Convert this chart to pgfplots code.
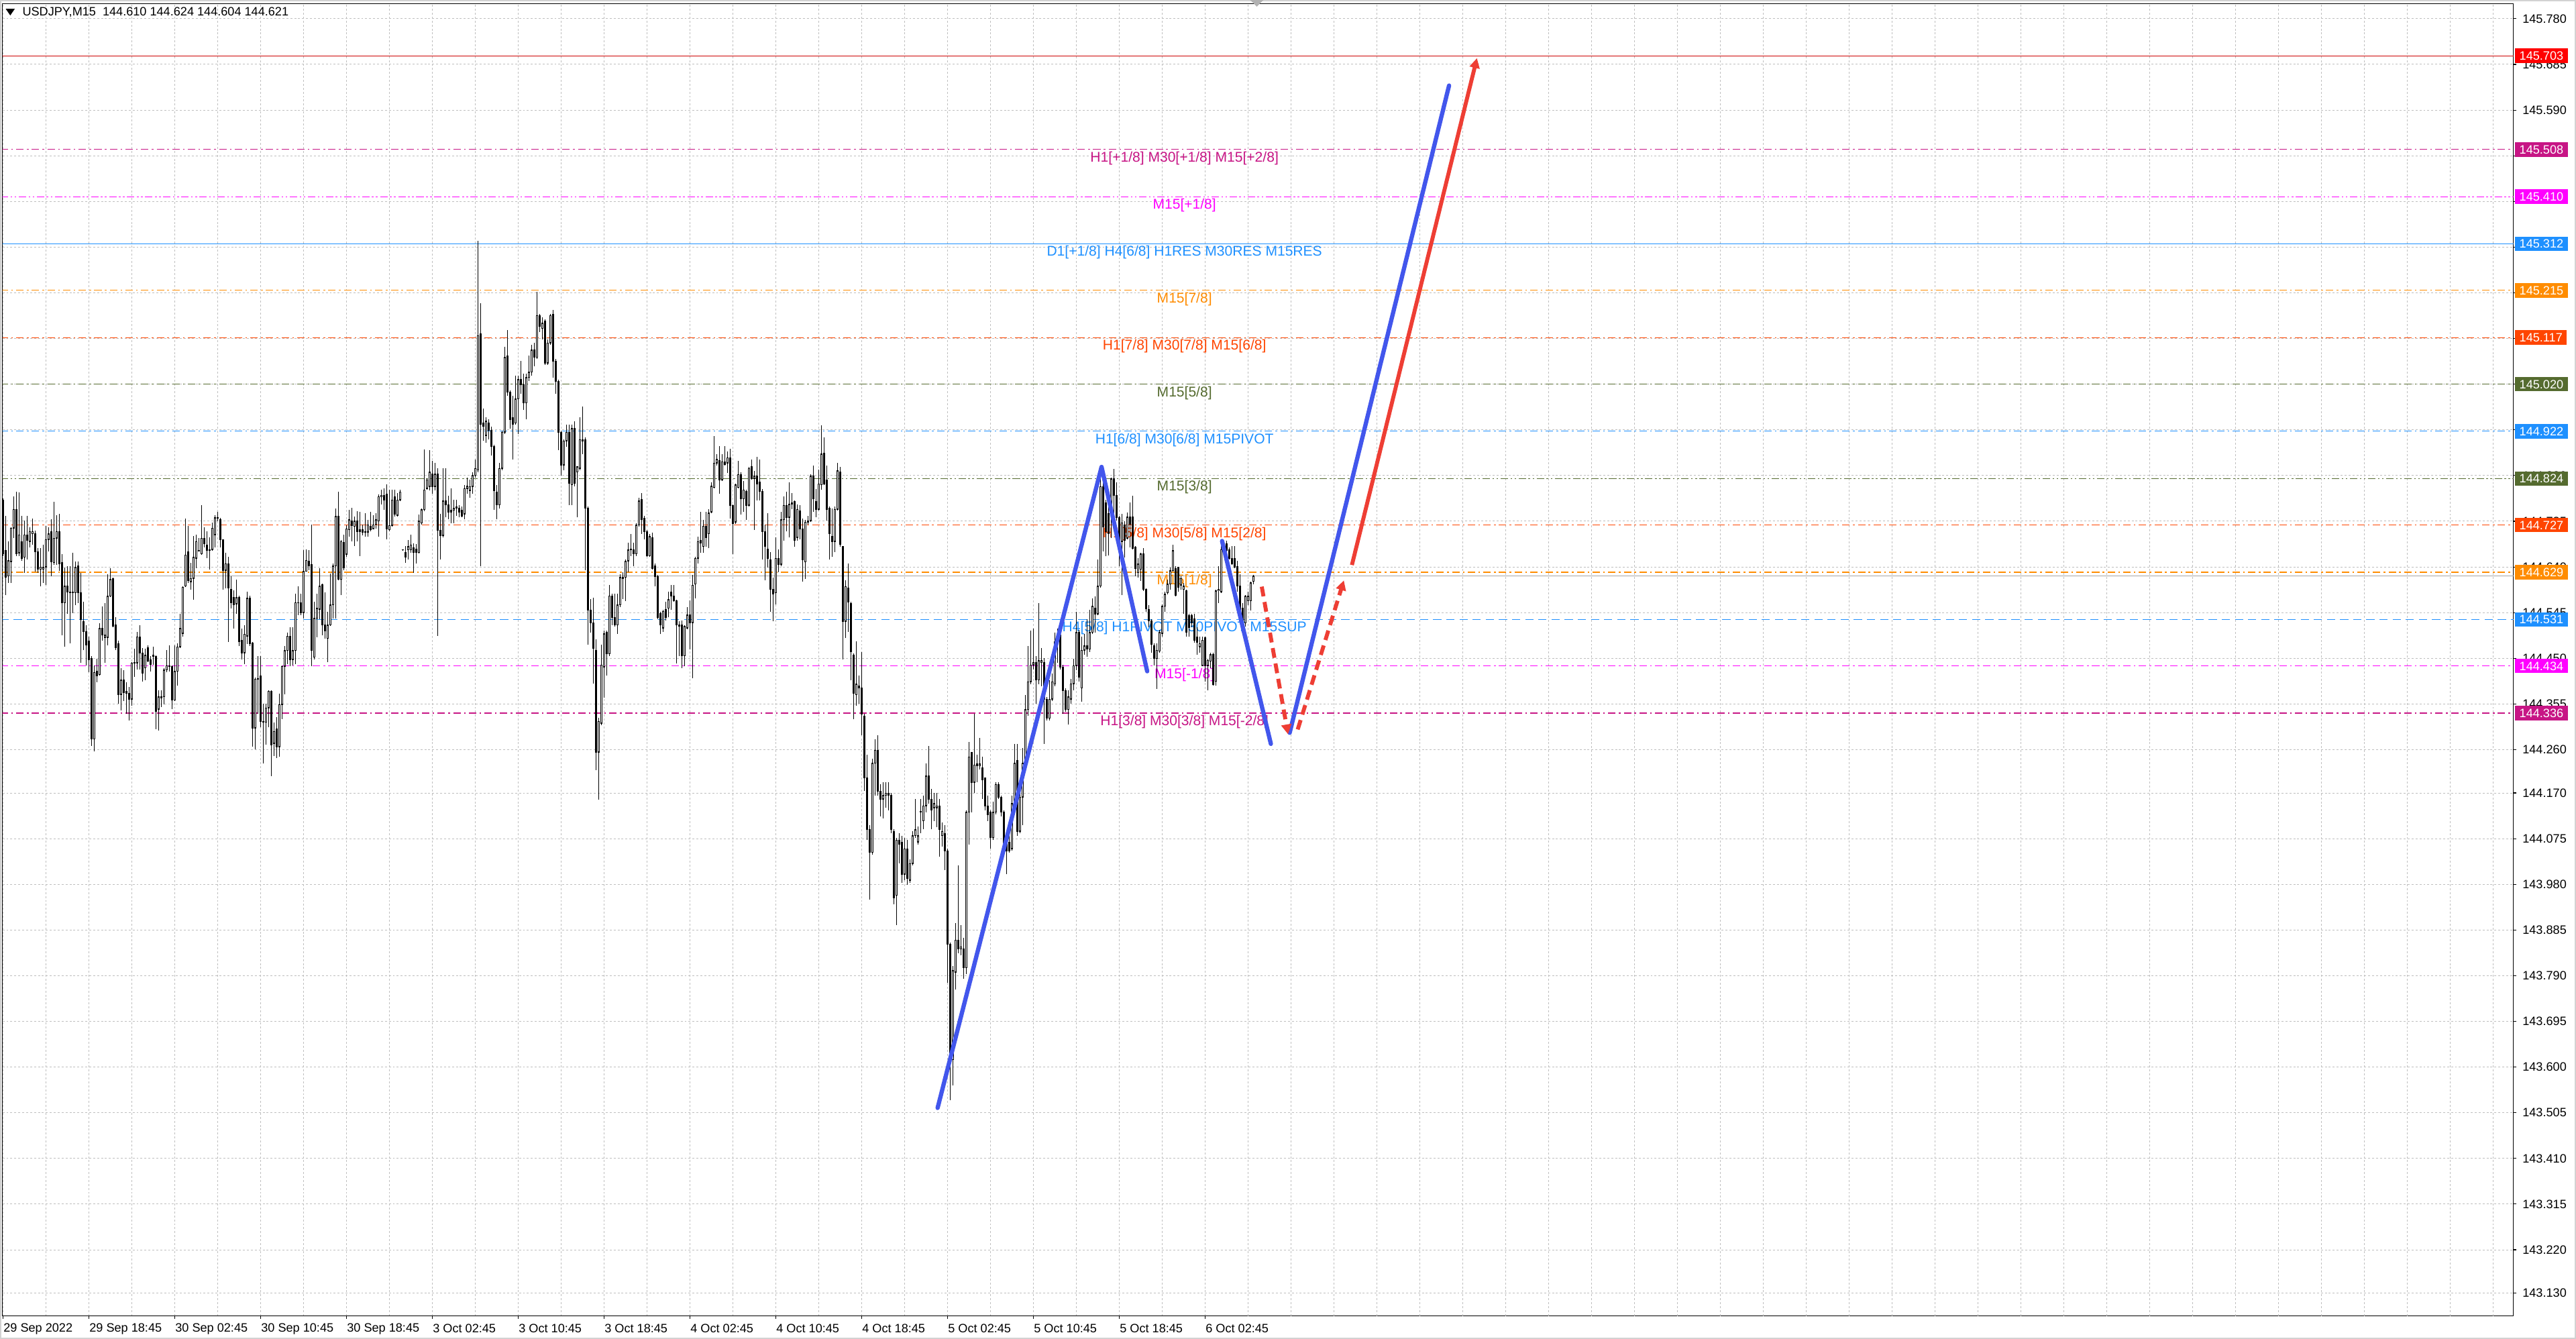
\documentclass[border=0pt]{standalone}
\usepackage{fontspec}
\setmainfont{Liberation Sans}
\usepackage{pgfplots}
\pgfplotsset{compat=1.18}
\usepackage{pgfplotstable}
\usetikzlibrary{arrows.meta}
\definecolor{dodger}{RGB}{30,144,255}
\definecolor{dorange}{RGB}{255,140,0}
\definecolor{ored}{RGB}{255,69,0}
\definecolor{oliv}{RGB}{85,107,47}
\definecolor{mag}{RGB}{255,0,255}
\definecolor{mvr}{RGB}{199,21,133}
\definecolor{lvlred}{RGB}{255,0,0}
\definecolor{pblue}{RGB}{66,86,236}
\definecolor{pred}{RGB}{238,62,52}
\definecolor{gridc}{RGB}{190,190,190}

\pgfplotstableread{
i H L O C
0 144.783 144.663 144.779 144.667
1 144.746 144.581 144.674 144.618
2 144.693 144.607 144.621 144.653
3 144.723 144.607 144.651 144.721
4 144.786 144.700 144.721 144.760
5 144.797 144.663 144.760 144.667
6 144.795 144.663 144.669 144.707
7 144.746 144.653 144.693 144.658
8 144.737 144.628 144.660 144.707
9 144.746 144.656 144.707 144.695
10 144.723 144.681 144.693 144.714
11 144.741 144.686 144.709 144.714
12 144.716 144.630 144.709 144.672
13 144.679 144.628 144.672 144.635
14 144.679 144.600 144.635 144.640
15 144.686 144.607 144.635 144.639
16 144.725 144.602 144.640 144.697
17 144.723 144.672 144.697 144.709
18 144.739 144.621 144.714 144.651
19 144.776 144.644 144.649 144.700
20 144.748 144.644 144.700 144.714
21 144.751 144.632 144.714 144.646
22 144.667 144.498 144.649 144.565
23 144.639 144.474 144.565 144.600
24 144.642 144.542 144.600 144.588
25 144.642 144.481 144.588 144.586
26 144.669 144.544 144.588 144.586
27 144.651 144.560 144.586 144.639
28 144.651 144.565 144.642 144.586
29 144.628 144.440 144.586 144.530
30 144.567 144.467 144.526 144.505
31 144.519 144.435 144.506 144.477
32 144.495 144.421 144.486 144.447
33 144.454 144.268 144.450 144.282
34 144.435 144.256 144.282 144.421
35 144.449 144.400 144.423 144.414
36 144.523 144.414 144.416 144.512
37 144.558 144.486 144.512 144.498
38 144.565 144.440 144.493 144.498
39 144.625 144.477 144.493 144.579
40 144.637 144.577 144.579 144.614
41 144.618 144.514 144.616 144.516
42 144.535 144.467 144.519 144.472
43 144.486 144.356 144.481 144.375
44 144.430 144.342 144.375 144.405
45 144.426 144.361 144.405 144.379
46 144.400 144.335 144.382 144.377
47 144.391 144.321 144.377 144.365
48 144.442 144.351 144.365 144.440
49 144.470 144.412 144.440 144.442
50 144.505 144.426 144.440 144.495
51 144.519 144.426 144.495 144.461
52 144.472 144.402 144.461 144.419
53 144.470 144.405 144.430 144.456
54 144.477 144.442 144.472 144.444
55 144.454 144.423 144.447 144.437
56 144.474 144.437 144.454 144.456
57 144.456 144.303 144.454 144.340
58 144.384 144.300 144.344 144.370
59 144.384 144.349 144.368 144.370
60 144.430 144.354 144.370 144.426
61 144.467 144.421 144.426 144.435
62 144.477 144.423 144.435 144.433
63 144.435 144.344 144.433 144.363
64 144.477 144.361 144.363 144.423
65 144.481 144.393 144.423 144.474
66 144.542 144.472 144.474 144.512
67 144.600 144.495 144.502 144.598
68 144.741 144.598 144.600 144.665
69 144.725 144.607 144.672 144.611
70 144.649 144.593 144.609 144.616
71 144.704 144.572 144.616 144.660
72 144.707 144.637 144.658 144.693
73 144.700 144.672 144.673 144.674
74 144.769 144.665 144.667 144.700
75 144.723 144.681 144.700 144.688
76 144.714 144.658 144.686 144.674
77 144.702 144.635 144.676 144.674
78 144.732 144.674 144.676 144.721
79 144.747 144.680 144.707 144.742
80 144.754 144.735 144.741 144.742
81 144.742 144.680 144.738 144.696
82 144.698 144.593 144.696 144.633
83 144.670 144.596 144.633 144.647
84 144.661 144.484 144.647 144.596
85 144.621 144.554 144.594 144.566
86 144.591 144.512 144.576 144.561
87 144.614 144.542 144.563 144.576
88 144.580 144.475 144.576 144.484
89 144.512 144.447 144.487 144.461
90 144.519 144.438 144.461 144.500
91 144.589 144.480 144.496 144.575
92 144.580 144.475 144.575 144.480
93 144.484 144.266 144.482 144.305
94 144.410 144.261 144.305 144.407
95 144.454 144.335 144.406 144.408
96 144.454 144.307 144.414 144.319
97 144.356 144.231 144.319 144.317
98 144.356 144.270 144.317 144.347
99 144.384 144.307 144.347 144.382
100 144.384 144.205 144.382 144.270
101 144.317 144.247 144.273 144.298
102 144.328 144.242 144.303 144.266
103 144.377 144.245 144.266 144.354
104 144.435 144.324 144.354 144.433
105 144.475 144.375 144.433 144.466
106 144.503 144.438 144.466 144.496
107 144.514 144.433 144.496 144.447
108 144.514 144.435 144.447 144.466
109 144.584 144.438 144.466 144.566
110 144.600 144.540 144.565 144.566
111 144.584 144.540 144.566 144.545
112 144.675 144.533 144.545 144.631
113 144.677 144.631 144.631 144.654
114 144.675 144.633 144.652 144.642
115 144.728 144.433 144.645 144.466
116 144.568 144.447 144.452 144.533
117 144.584 144.494 144.533 144.554
118 144.638 144.531 144.552 144.600
119 144.605 144.498 144.603 144.519
120 144.587 144.491 144.519 144.507
121 144.547 144.442 144.491 144.519
122 144.626 144.517 144.519 144.561
123 144.647 144.533 144.561 144.642
124 144.761 144.533 144.642 144.745
125 144.796 144.612 144.745 144.614
126 144.696 144.582 144.614 144.693
127 144.707 144.633 144.691 144.638
128 144.726 144.661 144.666 144.719
129 144.759 144.703 144.717 144.738
130 144.763 144.693 144.736 144.726
131 144.745 144.684 144.724 144.735
132 144.756 144.693 144.735 144.714
133 144.754 144.663 144.717 144.714
134 144.728 144.705 144.717 144.712
135 144.752 144.703 144.714 144.712
136 144.738 144.703 144.712 144.728
137 144.754 144.714 144.724 144.717
138 144.747 144.719 144.719 144.728
139 144.752 144.719 144.728 144.738
140 144.791 144.703 144.735 144.786
141 144.800 144.770 144.786 144.789
142 144.803 144.759 144.789 144.779
143 144.812 144.698 144.792 144.719
144 144.800 144.714 144.717 144.726
145 144.800 144.724 144.726 144.779
146 144.800 144.745 144.786 144.749
147 144.793 144.745 144.747 144.779
148 144.800 144.777 144.779 144.796
149 144.677 144.673 144.675 144.676
150 144.684 144.649 144.670 144.661
151 144.696 144.656 144.675 144.682
152 144.707 144.670 144.675 144.686
153 144.689 144.628 144.680 144.670
154 144.687 144.647 144.677 144.670
155 144.749 144.668 144.670 144.735
156 144.761 144.728 144.731 144.759
157 144.884 144.756 144.759 144.800
158 144.824 144.800 144.803 144.821
159 144.883 144.799 144.807 144.837
160 144.860 144.792 144.833 144.807
161 144.856 144.799 144.807 144.833
162 144.845 144.497 144.833 144.716
163 144.750 144.656 144.716 144.705
164 144.845 144.701 144.705 144.777
165 144.845 144.743 144.777 144.769
166 144.788 144.739 144.769 144.754
167 144.803 144.731 144.758 144.754
168 144.780 144.731 144.758 144.762
169 144.780 144.746 144.765 144.762
170 144.769 144.743 144.762 144.754
171 144.765 144.743 144.758 144.746
172 144.811 144.739 144.750 144.803
173 144.826 144.792 144.803 144.808
174 144.822 144.784 144.799 144.807
175 144.837 144.792 144.807 144.830
176 144.864 144.826 144.830 144.845
177 145.318 144.837 144.841 145.121
178 145.189 144.641 145.125 144.936
179 144.970 144.902 144.939 144.932
180 144.951 144.898 144.913 144.943
181 144.947 144.905 144.939 144.924
182 144.932 144.871 144.924 144.890
183 144.894 144.758 144.890 144.799
184 144.811 144.739 144.796 144.769
185 144.856 144.762 144.769 144.845
186 144.924 144.841 144.845 144.920
187 145.098 144.917 144.920 145.076
188 145.132 144.996 145.079 145.004
189 145.007 144.928 145.004 144.947
190 144.996 144.864 144.951 144.936
191 145.038 144.936 144.939 144.989
192 145.038 144.917 144.989 145.030
193 145.068 145.000 145.030 145.019
194 145.042 144.966 145.019 144.981
195 145.042 144.947 144.981 145.034
196 145.079 145.026 145.034 145.045
197 145.102 145.038 145.045 145.091
198 145.106 145.057 145.091 145.076
199 145.212 145.072 145.076 145.163
200 145.166 145.129 145.163 145.140
201 145.159 145.113 145.136 145.147
202 145.155 145.060 145.151 145.064
203 145.113 145.060 145.064 145.106
204 145.166 145.102 145.106 145.163
205 145.174 145.034 145.166 145.068
206 145.072 145.000 145.068 145.026
207 145.030 144.883 145.026 144.920
208 144.924 144.830 144.920 144.852
209 144.905 144.841 144.852 144.902
210 144.936 144.890 144.902 144.920
211 144.936 144.769 144.920 144.814
212 144.936 144.769 144.811 144.928
213 144.943 144.807 144.928 144.814
214 144.849 144.743 144.837 144.848
215 144.951 144.841 144.845 144.905
216 144.973 144.875 144.905 144.901
217 144.909 144.633 144.905 144.762
218 144.765 144.478 144.762 144.550
219 144.573 144.504 144.550 144.523
220 144.576 144.398 144.523 144.470
221 144.489 144.217 144.466 144.255
222 144.326 144.156 144.255 144.319
223 144.478 144.311 144.315 144.436
224 144.508 144.368 144.432 144.501
225 144.508 144.414 144.504 144.459
226 144.603 144.455 144.459 144.580
227 144.584 144.519 144.580 144.535
228 144.584 144.516 144.535 144.519
229 144.584 144.501 144.519 144.561
230 144.625 144.557 144.561 144.618
231 144.629 144.573 144.616 144.618
232 144.656 144.569 144.618 144.652
233 144.690 144.629 144.652 144.675
234 144.709 144.663 144.675 144.677
235 144.690 144.641 144.675 144.667
236 144.731 144.663 144.667 144.727
237 144.784 144.724 144.727 144.777
238 144.794 144.709 144.781 144.738
239 144.746 144.698 144.741 144.714
240 144.717 144.661 144.714 144.663
241 144.709 144.661 144.663 144.703
242 144.711 144.634 144.701 144.637
243 144.647 144.599 144.642 144.620
244 144.623 144.532 144.620 144.535
245 144.546 144.500 144.543 144.519
246 144.551 144.505 144.513 144.548
247 144.567 144.529 144.551 144.535
248 144.588 144.535 144.554 144.572
249 144.602 144.551 144.588 144.580
250 144.602 144.567 144.580 144.570
251 144.572 144.439 144.570 144.519
252 144.527 144.455 144.519 144.516
253 144.529 144.430 144.519 144.455
254 144.519 144.433 144.455 144.516
255 144.556 144.511 144.513 144.540
256 144.570 144.468 144.540 144.524
257 144.623 144.409 144.524 144.602
258 144.661 144.575 144.604 144.658
259 144.703 144.647 144.658 144.693
260 144.754 144.669 144.695 144.690
261 144.738 144.669 144.682 144.725
262 144.754 144.682 144.725 144.701
263 144.760 144.679 144.709 144.752
264 144.816 144.752 144.754 144.808
265 144.912 144.803 144.805 144.856
266 144.875 144.851 144.856 144.864
267 144.891 144.792 144.861 144.821
268 144.875 144.819 144.821 144.859
269 144.891 144.851 144.859 144.853
270 144.880 144.835 144.856 144.867
271 144.885 144.741 144.867 144.768
272 144.770 144.666 144.768 144.730
273 144.813 144.730 144.733 144.811
274 144.861 144.803 144.805 144.832
275 144.837 144.749 144.832 144.781
276 144.818 144.754 144.781 144.800
277 144.800 144.738 144.797 144.768
278 144.848 144.765 144.768 144.845
279 144.864 144.821 144.848 144.824
280 144.840 144.717 144.824 144.829
281 144.869 144.778 144.829 144.813
282 144.864 144.778 144.816 144.797
283 144.802 144.655 144.797 144.714
284 144.728 144.612 144.714 144.682
285 144.752 144.639 144.677 144.658
286 144.671 144.546 144.655 144.594
287 144.618 144.527 144.594 144.583
288 144.701 144.562 144.586 144.658
289 144.677 144.629 144.658 144.645
290 144.754 144.642 144.645 144.738
291 144.786 144.695 144.738 144.768
292 144.797 144.714 144.768 144.743
293 144.816 144.701 144.743 144.770
294 144.794 144.760 144.770 144.773
295 144.778 144.682 144.776 144.695
296 144.770 144.695 144.701 144.760
297 144.768 144.698 144.757 144.719
298 144.741 144.610 144.719 144.655
299 144.738 144.615 144.650 144.733
300 144.746 144.728 144.733 144.736
301 144.832 144.733 144.736 144.829
302 144.851 144.754 144.829 144.781
303 144.802 144.744 144.776 144.760
304 144.843 144.757 144.760 144.813
305 144.934 144.800 144.811 144.875
306 144.910 144.811 144.877 144.813
307 144.851 144.736 144.821 144.760
308 144.765 144.655 144.762 144.709
309 144.762 144.661 144.703 144.693
310 144.765 144.671 144.693 144.760
311 144.856 144.757 144.760 144.840
312 144.848 144.682 144.837 144.687
313 144.682 144.447 144.682 144.527
314 144.612 144.492 144.527 144.599
315 144.647 144.505 144.596 144.567
316 144.567 144.404 144.564 144.463
317 144.460 144.323 144.457 144.377
318 144.485 144.352 144.374 144.396
319 144.414 144.356 144.392 144.388
320 144.463 144.290 144.388 144.334
321 144.334 144.174 144.330 144.201
322 144.250 144.072 144.201 144.094
323 144.103 143.948 144.094 144.046
324 144.241 144.041 144.046 144.232
325 144.281 144.165 144.232 144.259
326 144.290 144.165 144.259 144.174
327 144.188 144.121 144.174 144.157
328 144.192 144.117 144.157 144.165
329 144.192 144.139 144.165 144.170
330 144.192 144.134 144.170 144.165
331 144.170 144.086 144.165 144.094
332 144.094 143.939 144.090 143.952
333 144.077 143.895 143.957 144.072
334 144.086 144.023 144.072 144.063
335 144.081 143.983 144.068 144.001
336 144.077 143.988 144.001 144.054
337 144.072 143.979 144.054 143.992
338 144.032 143.983 143.988 144.023
339 144.090 144.019 144.023 144.081
340 144.157 144.077 144.081 144.094
341 144.100 144.063 144.068 144.081
342 144.157 144.086 144.130 144.132
343 144.165 144.094 144.112 144.143
344 144.232 144.130 144.143 144.205
345 144.268 144.148 144.205 144.157
346 144.179 144.094 144.157 144.134
347 144.170 144.112 144.139 144.148
348 144.170 144.099 144.139 144.143
349 144.157 144.037 144.143 144.094
350 144.108 144.059 144.081 144.090
351 144.103 144.010 144.086 144.050
352 144.054 143.775 144.050 143.855
353 143.859 143.531 143.855 143.615
354 143.810 143.562 143.615 143.801
355 143.899 143.761 143.797 143.864
356 144.019 143.837 143.864 143.846
357 143.895 143.833 143.845 143.850
358 143.868 143.784 143.846 143.806
359 144.134 143.793 143.806 144.130
360 144.276 144.063 144.130 144.245
361 144.254 144.130 144.254 144.192
362 144.334 144.170 144.192 144.228
363 144.250 144.192 144.230 144.226
364 144.285 144.219 144.226 144.230
365 144.245 144.157 144.223 144.197
366 144.201 144.134 144.201 144.143
367 144.165 144.112 144.143 144.125
368 144.134 144.054 144.130 144.077
369 144.152 144.072 144.077 144.130
370 144.192 144.126 144.130 144.188
371 144.192 144.157 144.188 144.161
372 144.165 144.121 144.161 144.130
373 144.134 144.037 144.130 144.063
374 144.086 144.001 144.072 144.050
375 144.086 144.046 144.068 144.050
376 144.165 144.050 144.054 144.148
377 144.272 144.143 144.148 144.232
378 144.272 144.081 144.237 144.090
379 144.174 144.086 144.090 144.161
380 144.263 144.103 144.161 144.232
381 144.374 144.228 144.232 144.343
382 144.476 144.330 144.343 144.401
383 144.507 144.396 144.401 144.436
384 144.512 144.427 144.436 144.441
385 144.454 144.356 144.441 144.405
386 144.565 144.396 144.405 144.445
387 144.472 144.392 144.441 144.445
388 144.450 144.272 144.441 144.365
389 144.370 144.321 144.365 144.325
390 144.405 144.321 144.325 144.365
391 144.419 144.361 144.365 144.401
392 144.503 144.392 144.396 144.485
393 144.512 144.441 144.485 144.494
394 144.512 144.427 144.499 144.432
395 144.436 144.334 144.432 144.383
396 144.387 144.339 144.383 144.343
397 144.383 144.312 144.343 144.370
398 144.407 144.356 144.365 144.397
399 144.449 144.383 144.397 144.435
400 144.546 144.425 144.435 144.504
401 144.509 144.402 144.504 144.411
402 144.495 144.360 144.388 144.467
403 144.500 144.458 144.467 144.476
404 144.532 144.453 144.476 144.469
405 144.551 144.463 144.469 144.504
406 144.574 144.500 144.504 144.558
407 144.579 144.504 144.555 144.542
408 144.655 144.539 144.542 144.600
409 144.848 144.597 144.600 144.807
410 144.821 144.672 144.807 144.723
411 144.779 144.662 144.774 144.714
412 144.765 144.664 144.751 144.709
413 144.825 144.700 144.767 144.823
414 144.844 144.751 144.823 144.788
415 144.816 144.737 144.788 144.742
416 144.746 144.641 144.742 144.693
417 144.751 144.581 144.693 144.732
418 144.735 144.660 144.728 144.695
419 144.753 144.697 144.700 144.744
420 144.774 144.681 144.744 144.728
421 144.788 144.676 144.744 144.679
422 144.683 144.621 144.681 144.637
423 144.658 144.618 144.628 144.646
424 144.669 144.611 144.635 144.667
425 144.679 144.590 144.667 144.593
426 144.595 144.546 144.593 144.553
427 144.560 144.514 144.551 144.528
428 144.532 144.462 144.528 144.479
429 144.481 144.435 144.476 144.449
430 144.481 144.386 144.449 144.467
431 144.509 144.462 144.465 144.504
432 144.562 144.495 144.502 144.558
433 144.588 144.546 144.558 144.583
434 144.614 144.583 144.586 144.604
435 144.639 144.593 144.604 144.632
436 144.686 144.630 144.632 144.674
437 144.642 144.579 144.637 144.581
438 144.639 144.588 144.639 144.597
439 144.621 144.593 144.602 144.616
440 144.607 144.542 144.593 144.600
441 144.593 144.495 144.590 144.504
442 144.542 144.495 144.539 144.514
443 144.542 144.514 144.539 144.523
444 144.542 144.483 144.532 144.488
445 144.514 144.458 144.495 144.483
446 144.495 144.462 144.474 144.481
447 144.495 144.435 144.435 144.488
448 144.495 144.402 144.493 144.435
449 144.449 144.383 144.435 144.446
450 144.462 144.430 144.444 144.458
451 144.462 144.393 144.458 144.395
452 144.593 144.393 144.402 144.590
453 144.641 144.565 144.590 144.593
454 144.690 144.586 144.588 144.676
455 144.695 144.672 144.676 144.686
456 144.695 144.658 144.688 144.674
457 144.681 144.655 144.676 144.658
458 144.683 144.644 144.658 144.646
459 144.683 144.637 144.658 144.639
460 144.653 144.588 144.641 144.600
461 144.625 144.523 144.600 144.546
462 144.565 144.514 144.555 144.523
463 144.581 144.516 144.523 144.579
464 144.588 144.560 144.569 144.579
465 144.609 144.549 144.569 144.607
466 144.624 144.604 144.610 144.621
}\candles

\tikzset{lvlfont/.style={font=\fontsize{8.6}{10}\selectfont},
  boxlbl/.style={anchor=west, text=white, inner xsep=2.6pt, inner ysep=1.7pt,
    text height=5.3pt, text depth=0pt, font=\fontsize{7.4}{8}\selectfont},
  dashdot/.style={dash pattern=on 4.5pt off 2pt on 1pt off 2pt},
  dashdotdot/.style={dash pattern=on 4.5pt off 1.5pt on 1pt off 1.5pt on 1pt off 1.5pt}}

\begin{document}
\begin{tikzpicture}[x=1pt,y=1pt]
\fill[white] (0,0) rectangle (1568,815);
\draw[gray!35, line width=0.8pt] (0.4,0.4) rectangle (1567.6,814.6);
\begin{axis}[
  at={(1.5pt,14pt)}, anchor=south west, scale only axis,
  width=1528.5pt, height=798.8pt,
  xmin=-0.306, xmax=935.5, ymin=143.0824, ymax=145.8114,
  axis line style={black, line width=0.5pt},
  tick align=outside, major tick length=1.8pt, minor tick length=0pt,
  tick style={black, line width=0.45pt},
  xtick pos=left, ytick pos=right, yticklabel pos=right,
  xtick={0,32,...,448},
  xticklabels={29 Sep 2022,29 Sep 18:45,30 Sep 02:45,30 Sep 10:45,30 Sep 18:45,3 Oct 02:45,3 Oct 10:45,3 Oct 18:45,4 Oct 02:45,4 Oct 10:45,4 Oct 18:45,5 Oct 02:45,5 Oct 10:45,5 Oct 18:45,6 Oct 02:45},
  minor xtick={16,48,...,432},
  extra x ticks={464,480,...,928},
  extra x tick labels={},
  extra x tick style={grid=major, major tick length=0pt},
  ytick={145.780,145.685,145.590,145.495,145.400,145.305,145.210,145.115,145.020,144.925,144.830,144.735,144.640,144.545,144.450,144.355,144.260,144.170,144.075,143.980,143.885,143.790,143.695,143.600,143.505,143.410,143.315,143.220,143.130},
  yticklabels={145.780,145.685,145.590,,,,,,145.020,144.925,144.830,144.735,144.640,144.545,144.450,144.355,144.260,144.170,144.075,143.980,143.885,143.790,143.695,143.600,143.505,143.410,143.315,143.220,143.130},
  xmajorgrids, xminorgrids, ymajorgrids,
  grid style={gridc, dash pattern=on 1.2pt off 1.2pt, line width=0.4pt},
  ticklabel style={font=\fontsize{7.4}{8}\selectfont, inner sep=0pt},
  xticklabel style={anchor=west, yshift=-6pt},
  yticklabel style={anchor=west, xshift=3.5pt},
]
% level lines
\addplot[forget plot, lvlred!80!black, line width=0.45pt] coordinates {(-1,145.703) (936,145.703)};
\addplot[forget plot, mvr, line width=0.45pt, dashdot] coordinates {(-1,145.508) (936,145.508)};
\addplot[forget plot, mag, line width=0.45pt, dashdotdot] coordinates {(-1,145.410) (936,145.410)};
\addplot[forget plot, dodger, line width=0.45pt] coordinates {(-1,145.312) (936,145.312)};
\addplot[forget plot, dorange, line width=0.45pt, dashdot] coordinates {(-1,145.215) (936,145.215)};
\addplot[forget plot, ored, line width=0.45pt, dashdot] coordinates {(-1,145.117) (936,145.117)};
\addplot[forget plot, oliv, line width=0.45pt, dashdot] coordinates {(-1,145.020) (936,145.020)};
\addplot[forget plot, dodger, line width=0.45pt, dashdot] coordinates {(-1,144.922) (936,144.922)};
\addplot[forget plot, oliv, line width=0.45pt, dashdotdot] coordinates {(-1,144.824) (936,144.824)};
\addplot[forget plot, ored, line width=0.45pt, dashdot] coordinates {(-1,144.727) (936,144.727)};
\addplot[forget plot, dorange, line width=0.45pt, dashdot] coordinates {(-1,144.629) (936,144.629)};
\addplot[forget plot, gray!70, line width=0.45pt] coordinates {(-1,144.621) (936,144.621)};
\addplot[forget plot, dodger, line width=0.45pt, dash pattern=on 5pt off 3pt] coordinates {(-1,144.531) (936,144.531)};
\addplot[forget plot, mag, line width=0.45pt, dashdot] coordinates {(-1,144.434) (936,144.434)};
\addplot[forget plot, mvr, line width=0.45pt, dashdot] coordinates {(-1,144.336) (936,144.336)};
% level texts
\node[lvlfont, text=mvr, anchor=base, yshift=-7.6pt] at (axis cs:440.2,145.508) {H1[+1/8] M30[+1/8] M15[+2/8]};
\node[lvlfont, text=mag, anchor=base, yshift=-7.6pt] at (axis cs:440.2,145.410) {M15[+1/8]};
\node[lvlfont, text=dodger, anchor=base, yshift=-7.6pt] at (axis cs:440.2,145.312) {D1[+1/8] H4[6/8] H1RES M30RES M15RES};
\node[lvlfont, text=dorange, anchor=base, yshift=-7.6pt] at (axis cs:440.2,145.215) {M15[7/8]};
\node[lvlfont, text=ored, anchor=base, yshift=-7.6pt] at (axis cs:440.2,145.117) {H1[7/8] M30[7/8] M15[6/8]};
\node[lvlfont, text=oliv, anchor=base, yshift=-7.6pt] at (axis cs:440.2,145.020) {M15[5/8]};
\node[lvlfont, text=dodger, anchor=base, yshift=-7.6pt] at (axis cs:440.2,144.922) {H1[6/8] M30[6/8] M15PIVOT};
\node[lvlfont, text=oliv, anchor=base, yshift=-7.6pt] at (axis cs:440.2,144.824) {M15[3/8]};
\node[lvlfont, text=ored, anchor=base, yshift=-7.6pt] at (axis cs:440.2,144.727) {H1[5/8] M30[5/8] M15[2/8]};
\node[lvlfont, text=dorange, anchor=base, yshift=-7.6pt] at (axis cs:440.2,144.629) {M15[1/8]};
\node[lvlfont, text=dodger, anchor=base, yshift=-7.6pt] at (axis cs:440.2,144.531) {H4[5/8] H1PIVOT M30PIVOT M15SUP};
\node[lvlfont, text=mag, anchor=base, yshift=-7.6pt] at (axis cs:440.2,144.434) {M15[-1/8]};
\node[lvlfont, text=mvr, anchor=base, yshift=-7.6pt] at (axis cs:440.2,144.336) {H1[3/8] M30[3/8] M15[-2/8]};
% candles: wicks
\addplot[forget plot, draw=none, mark=none,
  error bars/.cd, y dir=plus, y explicit, error mark=none,
  error bar style={draw=black, line width=0.41pt, solid}]
  table[x=i, y=L, y error plus expr={\thisrow{H}-\thisrow{L}}] {\candles};
% candles: bodies (outline)
\addplot[forget plot, draw=none, mark=none,
  error bars/.cd, y dir=plus, y explicit, error mark=none,
  error bar style={draw=black, line width=1.25pt, solid}]
  table[x=i, y expr={min(\thisrow{O},\thisrow{C})-0.0007}, y error plus expr={abs(\thisrow{C}-\thisrow{O})+0.0014}] {\candles};
% candles: white interior of rising bars
\addplot[forget plot, draw=none, mark=none,
  restrict expr to domain={\thisrow{C}-\thisrow{O}}{0.003:5},
  error bars/.cd, y dir=plus, y explicit, error mark=none,
  error bar style={draw=white, line width=0.43pt, solid}]
  table[x=i, y expr={\thisrow{O}+0.0014}, y error plus expr={\thisrow{C}-\thisrow{O}-0.0028}] {\candles};
% drawn projection lines
\addplot[forget plot, pblue, line width=2.6pt, line cap=round, line join=round] coordinates {(348.2,143.515) (409.3,144.848) (426.3,144.423)};
\addplot[forget plot, pblue, line width=2.6pt, line cap=round] coordinates {(454.2,144.694) (472.4,144.272)};
\addplot[forget plot, pblue, line width=2.6pt, line cap=round] coordinates {(479.4,144.295) (538.8,145.641)};
\addplot[forget plot, pred, line width=2.4pt, dash pattern=on 6pt off 3.5pt, -{Triangle[length=6pt,width=6pt]}] coordinates {(469.0,144.599) (478.8,144.292)};
\addplot[forget plot, pred, line width=2.4pt, dash pattern=on 6pt off 3.5pt, -{Triangle[length=6pt,width=6pt]}] coordinates {(482.4,144.302) (499.6,144.612)};
\addplot[forget plot, pred, line width=2.4pt, -{Triangle[length=6pt,width=6pt]}] coordinates {(502.6,144.644) (549.2,145.698)};
% anchors for price boxes
\coordinate (P1) at (axis cs:935.5,145.703);
\coordinate (P2) at (axis cs:935.5,145.508);
\coordinate (P3) at (axis cs:935.5,145.410);
\coordinate (P4) at (axis cs:935.5,145.312);
\coordinate (P5) at (axis cs:935.5,145.215);
\coordinate (P6) at (axis cs:935.5,145.117);
\coordinate (P7) at (axis cs:935.5,145.020);
\coordinate (P8) at (axis cs:935.5,144.922);
\coordinate (P9) at (axis cs:935.5,144.824);
\coordinate (P10) at (axis cs:935.5,144.727);
\coordinate (P11) at (axis cs:935.5,144.629);
\coordinate (P12) at (axis cs:935.5,144.531);
\coordinate (P13) at (axis cs:935.5,144.434);
\coordinate (P14) at (axis cs:935.5,144.336);
\end{axis}
% price boxes on the scale
\node[boxlbl, fill=lvlred] at ([xshift=0.8pt]P1) {145.703};
\node[boxlbl, fill=mvr] at ([xshift=0.8pt]P2) {145.508};
\node[boxlbl, fill=mag] at ([xshift=0.8pt]P3) {145.410};
\node[boxlbl, fill=dodger] at ([xshift=0.8pt]P4) {145.312};
\node[boxlbl, fill=dorange] at ([xshift=0.8pt]P5) {145.215};
\node[boxlbl, fill=ored] at ([xshift=0.8pt]P6) {145.117};
\node[boxlbl, fill=oliv] at ([xshift=0.8pt]P7) {145.020};
\node[boxlbl, fill=dodger] at ([xshift=0.8pt]P8) {144.922};
\node[boxlbl, fill=oliv] at ([xshift=0.8pt]P9) {144.824};
\node[boxlbl, fill=ored] at ([xshift=0.8pt]P10) {144.727};
\node[boxlbl, fill=dorange] at ([xshift=0.8pt]P11) {144.629};
\node[boxlbl, fill=dodger] at ([xshift=0.8pt]P12) {144.531};
\node[boxlbl, fill=mag] at ([xshift=0.8pt]P13) {144.434};
\node[boxlbl, fill=mvr] at ([xshift=0.8pt]P14) {144.336};
% header
\fill[black] (3.5,809.6) -- (9.0,809.6) -- (6.25,805.6) -- cycle;
\node[anchor=west, inner sep=0pt, font=\fontsize{7.4}{8}\selectfont] at (13.5,807.4) {USDJPY,M15\ \ 144.610 144.624 144.604 144.621};
\fill[gray!60] (761,815) -- (769,815) -- (765,811) -- cycle;
\pgfresetboundingbox
\useasboundingbox (0,0) rectangle (1568,815);
\end{tikzpicture}
\end{document}
